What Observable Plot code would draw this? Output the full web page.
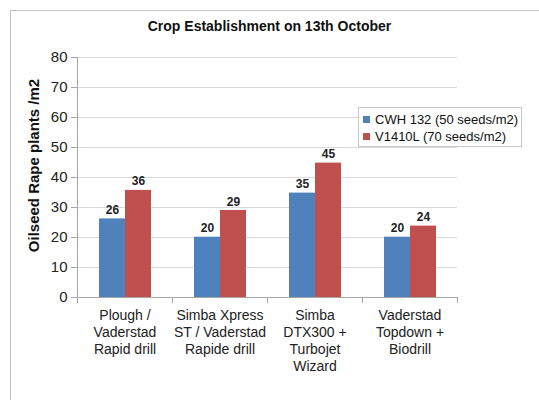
<!DOCTYPE html>
<html><head><meta charset="utf-8">
<script src="https://cdn.jsdelivr.net/npm/d3@7"></script>
<script src="https://cdn.jsdelivr.net/npm/@observablehq/plot@0.6"></script>
<style>
body{margin:0;background:#fff;font-family:"Liberation Sans",Arial,sans-serif;}
#wrap{position:relative;width:539px;height:400px;overflow:hidden;background:#fff;}
#border{position:absolute;left:10px;top:10px;width:600px;height:500px;border:1px solid #c4c4c4;}
#title{position:absolute;left:0;width:539px;top:18px;text-align:center;font-weight:bold;font-size:14px;color:#111;}
#ylabel{position:absolute;left:-77px;top:157px;width:220px;text-align:center;font-weight:bold;font-size:15px;color:#111;transform:rotate(-90deg);}
#chart{position:absolute;left:0;top:40px;}
#legend{position:absolute;left:358px;top:107px;width:164px;height:40px;border:1px solid #c8c8c8;box-sizing:border-box;font-size:13px;color:#111;background:#fff;padding-top:3px;}
#legend div{height:17px;line-height:17px;padding-left:4px;white-space:nowrap;}
#legend span.sw{display:inline-block;width:7px;height:7px;margin-right:5px;vertical-align:1px;}
</style>
</head><body>
<div id="wrap">
<div id="border"></div>
<div id="title">Crop Establishment on 13th October</div>
<div id="chart"></div>
<div id="ylabel">Oilseed Rape plants /m2</div>
<div id="legend"></div>
</div>
<script>
const categories = ["Plough /\nVaderstad\nRapid drill", "Simba Xpress\nST / Vaderstad\nRapide drill", "Simba\nDTX300 +\nTurbojet\nWizard", "Vaderstad\nTopdown +\nBiodrill"];
const series = ["CWH 132 (50 seeds/m2)", "V1410L (70 seeds/m2)"];
const cwh = [26.2, 20.1, 34.8, 20.1];
const v1410 = [35.7, 29.0, 44.8, 23.8];
const colors = ["#4F81BD", "#C0504D"];
const yTicks = [0, 10, 20, 30, 40, 50, 60, 70, 80];

const data = [];
categories.forEach((c, i) => {
  data.push({cat: c, series: series[0], value: cwh[i]});
  data.push({cat: c, series: series[1], value: v1410[i]});
});

const chart = Plot.plot({
  width: 539, height: 360,
  marginLeft: 75, marginRight: 81, marginTop: 17, marginBottom: 103,
  style: {fontFamily: "'Liberation Sans', Arial, sans-serif", background: "transparent"},
  fx: {domain: categories, padding: 0, label: null},
  x: {domain: series, paddingInner: 0, paddingOuter: 0.773, axis: null},
  y: {domain: [0, 80], label: null},
  color: {domain: series, range: colors},
  marks: [
    Plot.ruleY(yTicks.slice(1), {stroke: "#d9d9d9"}),
    Plot.frame({anchor: "left", stroke: "#a6a6a6", insetTop: 240, insetBottom: -5}),
    Plot.frame({anchor: "right", stroke: "#a6a6a6", insetTop: 240, insetBottom: -5}),
    Plot.frame({anchor: "left", stroke: "#a6a6a6", facetAnchor: "left"}),
    Plot.axisY({ticks: yTicks, tickSize: 6, tickPadding: 4, fontSize: 15, stroke: "#a6a6a6", fill: "#222", label: null}),
    Plot.axisFx({anchor: "bottom", tickSize: 0, tickPadding: 11, fontSize: 14, lineHeight: 1.2, fill: "#222", label: null}),
    Plot.barY(data, {fx: "cat", x: "series", y: "value", fill: "series"}),
    Plot.ruleY([0], {stroke: "#a6a6a6"}),
    Plot.text(data, {fx: "cat", x: "series", y: "value", text: d => Math.round(d.value), dy: -5, lineAnchor: "bottom", fontWeight: "bold", fontSize: 12, fill: "#222"})
  ]
});
document.getElementById("chart").appendChild(chart);

const leg = document.getElementById("legend");
series.forEach((s, i) => {
  const row = document.createElement("div");
  const sw = document.createElement("span");
  sw.className = "sw";
  sw.style.background = colors[i];
  row.appendChild(sw);
  row.appendChild(document.createTextNode(s));
  leg.appendChild(row);
});
</script>
</body></html>
